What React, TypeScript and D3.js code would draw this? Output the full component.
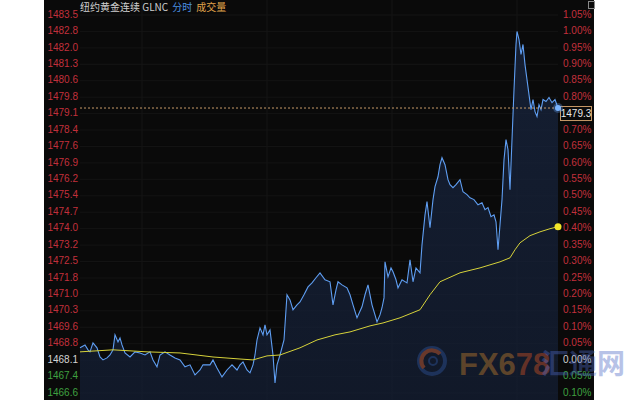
import React from "react";
import * as d3 from "d3";

const basePrice = 1468.09;
const lastPriceLabel = "1479.3";
const titleMain = "纽约黄金连续 GLNC";
const titleTab1 = "分时";
const titleTab2 = "成交量";
const watermarkCn = "汇通网";

// minute offsets from session start and last prices
const minutes = [0,5,8,10,13,17,20,23,27,30,33,35,38,40,42,45,50,55,60,65,70,73,77,80,85,90,95,100,105,110,115,120,123,130,133,137,142,147,152,157,160,163,167,170,173,175,177,180,183,185,187,190,193,195,197,200,204,207,210,213,217,220,224,228,232,236,240,245,250,253,256,258,262,267,270,273,277,282,285,288,292,295,297,300,302,304,305,308,311,313,316,318,322,327,330,333,336,340,342,345,347,350,353,355,358,360,362,365,368,370,373,376,380,383,387,390,394,398,402,405,408,411,414,416,418,420,422,424,426,428,430,432,434,436,437,439,441,443,445,447,449,451,453,455,457,459,461,463,466,469,472,475,478];
const prices = [1468.64,1468.77,1468.55,1468.46,1468.86,1468.64,1468.23,1468.10,1468.19,1468.32,1468.55,1469.22,1468.90,1469.08,1468.77,1468.41,1468.23,1468.46,1468.41,1468.32,1468.46,1468.10,1467.79,1468.32,1468.46,1468.32,1468.19,1468.10,1467.79,1467.88,1467.43,1467.65,1467.88,1467.88,1468.10,1467.74,1467.34,1467.65,1467.88,1467.65,1467.88,1468.01,1467.65,1467.52,1467.88,1468.32,1468.99,1469.53,1469.22,1469.67,1469.22,1469.44,1468.32,1467.07,1467.88,1468.32,1468.99,1471.01,1470.78,1470.34,1470.56,1470.69,1471.01,1471.36,1471.54,1471.77,1471.99,1471.68,1471.59,1470.56,1471.23,1471.59,1471.45,1471.32,1471.01,1470.56,1469.98,1470.47,1471.01,1471.45,1470.56,1470.11,1469.80,1470.11,1470.43,1470.87,1472.48,1471.81,1472.21,1472.04,1471.68,1471.32,1471.68,1471.54,1472.57,1471.59,1472.21,1471.99,1473.24,1474.58,1475.17,1474.00,1475.26,1475.84,1476.28,1476.82,1477.13,1476.82,1476.15,1475.93,1475.79,1475.93,1476.15,1475.61,1475.48,1475.34,1475.26,1475.03,1475.12,1474.81,1474.90,1474.50,1474.58,1474.27,1473.02,1474.14,1475.26,1477.04,1477.94,1477.49,1475.70,1477.94,1480.17,1482.19,1482.77,1482.41,1481.74,1482.19,1481.29,1480.62,1479.95,1479.28,1479.73,1479.19,1478.97,1479.50,1479.28,1479.73,1479.64,1479.82,1479.59,1479.73,1479.35];

// average price line
const avgMinutes = [0,33,67,100,133,160,173,187,200,220,237,255,270,290,303,320,340,350,360,380,400,420,430,435,440,450,460,470,478];
const avgPrices = [1468.46,1468.55,1468.46,1468.41,1468.23,1468.14,1468.10,1468.28,1468.32,1468.64,1468.99,1469.22,1469.35,1469.62,1469.75,1469.98,1470.34,1471.01,1471.59,1471.99,1472.21,1472.48,1472.66,1473.02,1473.33,1473.65,1473.82,1473.96,1474.05];

const pctTickValues = [1.05,1.0,0.95,0.9,0.85,0.8,0.75,0.7,0.65,0.6,0.55,0.5,0.45,0.4,0.35,0.3,0.25,0.2,0.15,0.1,0.05,0,-0.05,-0.1];
const priceTickLabels = ["1483.5","1482.8","1482.0","1481.3","1480.6","1479.8","1479.1","1478.4","1477.6","1476.9","1476.2","1475.4","1474.7","1474.0","1473.2","1472.5","1471.8","1471.0","1470.3","1469.6","1468.8","1468.1","1467.4","1466.6"];
const pctTickLabels = ["1.05%","1.00%","0.95%","0.90%","0.85%","0.80%","0.75%","0.70%","0.65%","0.60%","0.55%","0.50%","0.45%","0.40%","0.35%","0.30%","0.25%","0.20%","0.15%","0.10%","0.05%","0.00%","0.05%","0.10%"];
const timeGridMinutes = [62, 187, 312, 437];

const W = 640, H = 400;
const panelX0 = 44, panelX1 = 594;
const plotX0 = 80, plotX1 = 558;

const RED = "#c2303c";
const GREEN = "#3fa040";
const NEUTRAL = "#d4d4d4";

export default function App() {
  const x = d3.scaleLinear().domain([0, d3.max(minutes) as number]).range([plotX0, plotX1]);
  const yPct = d3.scaleLinear().domain([-0.1, 1.05]).range([393, 15]);
  const yPrice = (p: number) => yPct((p / basePrice - 1) * 100);

  const pts = minutes.map((m, i) => [m, prices[i]] as [number, number]);
  const avgPts = avgMinutes.map((m, i) => [m, avgPrices[i]] as [number, number]);

  const line = d3.line<[number, number]>().x(d => x(d[0])).y(d => yPrice(d[1]));
  const area = d3.area<[number, number]>().x(d => x(d[0])).y0(H).y1(d => yPrice(d[1]));

  const last = pts[pts.length - 1];
  const lastAvg = avgPts[avgPts.length - 1];
  const lastY = yPrice(last[1]);
  const boxTop = lastY - 1.5;
  const boxH = 14;
  const boxMid = boxTop + boxH / 2;

  const colorFor = (v: number) => (v > 0.0001 ? RED : v < -0.0001 ? GREEN : NEUTRAL);
  const font = "'Liberation Sans', Arial, sans-serif";

  return (
    <svg width={W} height={H} style={{ position: "absolute", left: 0, top: 0, background: "#ffffff" }}>
      <defs>
        <linearGradient id="areaGrad" x1="0" y1="0" x2="0" y2="1">
          <stop offset="0%" stopColor="#18253f" stopOpacity={0.75} />
          <stop offset="100%" stopColor="#141f36" stopOpacity={0.7} />
        </linearGradient>
      </defs>
      <rect x={panelX0} y={0} width={panelX1 - panelX0} height={H} fill="#0a0a0a" />

      {/* grid */}
      {pctTickValues.map((v, i) => (
        <line key={"hg" + i} x1={plotX0} x2={plotX1} y1={yPct(v)} y2={yPct(v)} stroke="#141414" strokeWidth={1} />
      ))}
      {timeGridMinutes.map((m, i) => (
        <line key={"vg" + i} x1={x(m)} x2={x(m)} y1={0} y2={H} stroke="#141414" strokeWidth={1} />
      ))}

      {/* area + lines */}
      <path d={area(pts) || ""} fill="url(#areaGrad)" />
      <path d={line(pts) || ""} fill="none" stroke="#5f9ef2" strokeWidth={1.1} />
      <path d={line(avgPts) || ""} fill="none" stroke="#d6d23a" strokeWidth={1} />

      {/* last price dashed line */}
      <line x1={plotX0} x2={plotX1 + 2} y1={lastY} y2={lastY} stroke="#c89a68" strokeWidth={1} strokeDasharray="2,2" />

      {/* left axis labels */}
      {pctTickValues.map((v, i) => (
        <text key={"pl" + i} x={78} y={yPct(v)} textAnchor="end" dominantBaseline="middle"
          fontFamily={font} fontSize={10} fill={colorFor(v)}>{priceTickLabels[i]}</text>
      ))}
      {/* right axis labels (the one hidden under the last-price box is not drawn) */}
      {pctTickValues.map((v, i) =>
        Math.abs(yPct(v) - boxMid) < 9 ? null : (
          <text key={"rl" + i} x={563} y={yPct(v)} dominantBaseline="middle"
            fontFamily={font} fontSize={10} fill={colorFor(v)}>{pctTickLabels[i]}</text>
        )
      )}

      {/* last price box */}
      <rect x={560.5} y={boxTop} width={31} height={boxH} fill="#0a0a0a" stroke="#c89a68" strokeWidth={1} />
      <text x={576} y={boxMid + 0.5} textAnchor="middle" dominantBaseline="middle" fontFamily={font} fontSize={10} fill="#e8e8e8">{lastPriceLabel}</text>

      {/* end dots */}
      <circle cx={x(last[0])} cy={yPrice(last[1])} r={5} fill="#6aaaff" opacity={0.3} />
      <circle cx={x(last[0])} cy={yPrice(last[1])} r={3} fill="#7ab4ff" />
      <circle cx={x(lastAvg[0])} cy={yPrice(lastAvg[1])} r={3.5} fill="#f2e62a" />

      {/* title */}
      <text x={80} y={11} fontFamily="'Noto Sans CJK SC', sans-serif" fontSize={10}>
        <tspan fill="#cfcfcf">{titleMain}</tspan>
        <tspan fill="#4a8fe0" dx={4}>{titleTab1}</tspan>
        <tspan fill="#e0a24a" dx={4}>{titleTab2}</tspan>
      </text>

      {/* top-right icon */}
      <rect x={588.5} y={1.5} width={6} height={7} fill="none" stroke="#888" strokeWidth={1} />

      {/* watermark */}
      <g opacity={0.5}>
        <circle cx={432} cy={361} r={13} fill="none" stroke="#2a4c8c" strokeWidth={4} />
        <path d="M 424 368 A 10 10 0 0 1 440 354" fill="none" stroke="#c0582c" strokeWidth={4} />
        <circle cx={433} cy={361} r={4} fill="none" stroke="#2a4c8c" strokeWidth={2} />
      </g>
      <text x={459} y={375} fontFamily="'Liberation Sans', Arial, sans-serif" fontWeight="bold" fontSize={31} opacity={0.5}>
        <tspan fill="#a8702c">FX6</tspan><tspan fill="#b44a26">78</tspan>
      </text>
      <text x={541} y={374} fontFamily="'Noto Sans CJK SC', sans-serif" fontWeight="bold" fontSize={28} fill="#4d68c4" opacity={0.4}>{watermarkCn}</text>
    </svg>
  );
}
